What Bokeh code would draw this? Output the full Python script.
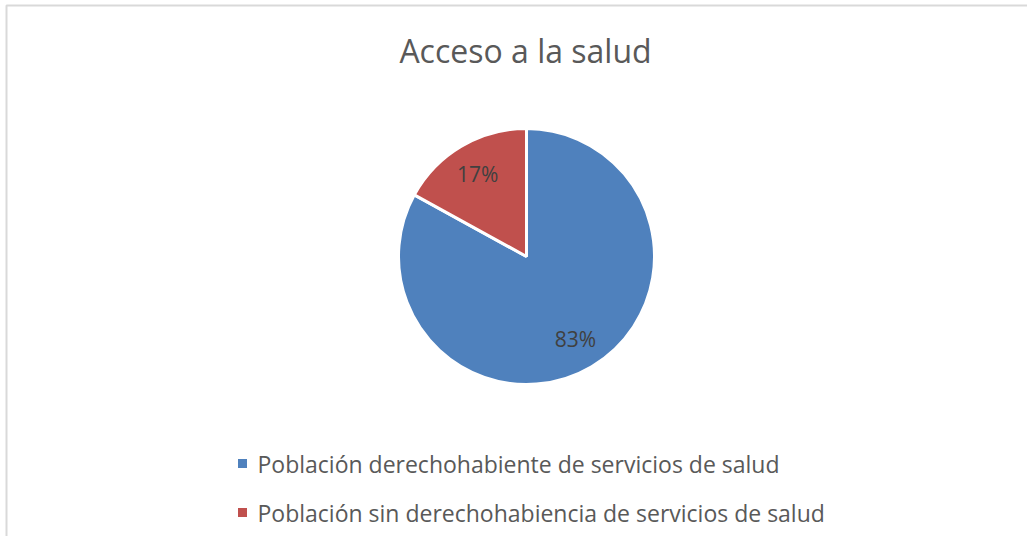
import math
from bokeh.plotting import figure
from bokeh.models import Range1d, ColumnDataSource
from bokeh.core.properties import value
from bokeh.embed import file_html
from bokeh.resources import INLINE

# ---- data ----
title_text = "Acceso a la salud"
categories = [
    "Población derechohabiente de servicios de salud",
    "Población sin derechohabiencia de servicios de salud",
]
shares = [83, 17]
colors = ["#4F81BD", "#C0504D"]

# ---- layout (pixel space of the figure) ----
W, H = 1027, 536


def px(x):                    # reference x -> data x
    return x


def py(y):                    # reference y (top-down) -> data y (bottom-up)
    return H - y


cx, cy, R = px(526), py(256), 128
label_r = 0.75 * R
FONT = "Open Sans"

p = figure(width=W, height=H, output_backend="svg", toolbar_location=None,
           x_range=Range1d(0, W), y_range=Range1d(0, H), min_border=0,
           background_fill_color="white", border_fill_color="white",
           outline_line_color=None)
p.axis.visible = False
p.grid.visible = False

# ---- pie wedges (start at 12 o'clock, clockwise) ----
total = float(sum(shares))
starts, ends, lx, ly, ltxt = [], [], [], [], []
cum = 0.0
for v in shares:
    end = math.pi / 2 - cum / total * 2 * math.pi
    start = math.pi / 2 - (cum + v) / total * 2 * math.pi
    starts.append(start)
    ends.append(end)
    mid = (start + end) / 2
    lx.append(cx + label_r * math.cos(mid))
    ly.append(cy + label_r * math.sin(mid))
    ltxt.append(f"{round(v / total * 100)}%")
    cum += v

src = ColumnDataSource(dict(start=starts, end=ends, color=colors, cat=categories,
                            lx=lx, ly=ly, txt=ltxt))
p.wedge(x=cx, y=cy, radius=R, start_angle="start", end_angle="end",
        direction="anticlock", fill_color="color", line_color="white",
        line_width=3, source=src)

p.text(x="lx", y="ly", text="txt", source=src, text_align="center",
       text_baseline="middle", text_font=value(FONT), text_font_size="21px",
       text_color="#404040")

# ---- title ----
p.text(x=[px(525)], y=[py(50)], text=[title_text], text_align="center",
       text_baseline="alphabetic", text_font=value(FONT),
       text_font_size="32px", text_color="#595959")

# ---- legend ----
leg_y = [py(463), py(512)]
p.scatter(x=[px(242)] * len(categories), y=leg_y, marker="square", size=9,
          fill_color=colors, line_color=None)
p.text(x=[px(257)] * len(categories), y=[py(463), py(512)], text=categories,
       text_align="left", text_baseline="alphabetic", text_font=value(FONT),
       text_font_size="23px", text_color="#595959")

# ---- chart frame (top and left edges visible) ----
p.line(x=[px(6), px(6), W], y=[0, py(5), py(5)], line_color="#d9d9d9",
       line_width=2)

open("out.html", "w").write(file_html(p, INLINE))
